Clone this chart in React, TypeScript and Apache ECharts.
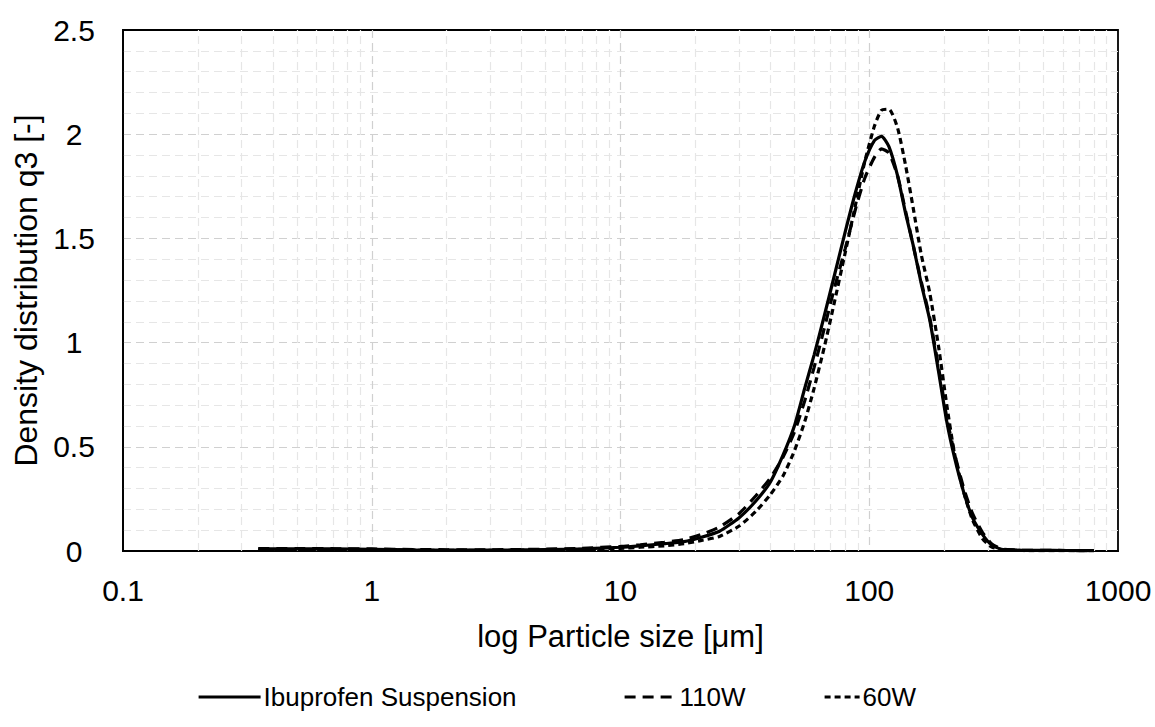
import React, { useEffect, useRef } from "react";
import * as echarts from "echarts";

const sizes = [0.35, 0.5, 0.7, 1, 1.5, 2, 3, 4, 5, 7, 10, 12, 15, 18, 21, 25, 30, 35, 40, 45, 50, 55, 60, 66, 72, 80, 88, 96, 105, 112, 120, 130, 140, 150, 162, 175, 190, 205, 220, 240, 260, 285, 310, 340, 380, 450, 550, 700, 800];

const suspension = [0.01, 0.01, 0.01, 0.008, 0.005, 0.004, 0.004, 0.005, 0.007, 0.01, 0.018, 0.025, 0.035, 0.045, 0.065, 0.095, 0.16, 0.24, 0.33, 0.46, 0.6, 0.78, 0.94, 1.13, 1.31, 1.53, 1.72, 1.87, 1.97, 1.99, 1.94, 1.8, 1.62, 1.47, 1.28, 1.11, 0.86, 0.62, 0.45, 0.28, 0.16, 0.08, 0.03, 0.008, 0.005, 0.003, 0.003, 0.002, 0.002];

const w110 = [0.012, 0.012, 0.011, 0.01, 0.007, 0.006, 0.006, 0.007, 0.009, 0.013, 0.022, 0.03, 0.042, 0.055, 0.078, 0.115, 0.18, 0.265, 0.35, 0.45, 0.57, 0.72, 0.88, 1.07, 1.25, 1.45, 1.64, 1.79, 1.89, 1.93, 1.91, 1.8, 1.63, 1.47, 1.29, 1.12, 0.88, 0.64, 0.47, 0.3, 0.18, 0.09, 0.035, 0.01, 0.005, 0.003, 0.003, 0.002, 0.002];

const w60 = [0.005, 0.005, 0.005, 0.005, 0.003, 0.003, 0.003, 0.004, 0.005, 0.008, 0.013, 0.018, 0.025, 0.035, 0.05, 0.07, 0.12, 0.19, 0.27, 0.36, 0.48, 0.62, 0.78, 0.98, 1.18, 1.43, 1.66, 1.87, 2.04, 2.115, 2.12, 2.03, 1.85, 1.65, 1.42, 1.24, 0.98, 0.7, 0.47, 0.28, 0.15, 0.06, 0.02, 0.006, 0.003, 0.002, 0.002, 0.002, 0.002];

const seriesNames = ["Ibuprofen Suspension", "110W", "60W"];
const decades = [0.1, 1, 10, 100];
const minorMultipliers = [2, 3, 4, 5, 6, 7, 8, 9];

const FONT = "'Liberation Sans', Arial, sans-serif";
const DASH_110: number[] = [11, 7];
const DASH_60: number[] = [6, 4];

export default function App() {
  const ref = useRef<HTMLDivElement>(null);
  useEffect(() => {
    if (!ref.current) return;
    const chart = echarts.init(ref.current, undefined, { renderer: "svg" });
    const minorX: number[] = [];
    decades.forEach((d) => minorMultipliers.forEach((m) => minorX.push(+(d * m).toPrecision(6))));
    const pairs = (ys: number[]) => sizes.map((x, i) => [x, ys[i]]);
    const lineSeries = (name: string, ys: number[], dash: any) => ({
      name,
      type: "line",
      data: pairs(ys),
      showSymbol: false,
      symbol: "none",
      smooth: 0.2,
      z: 3,
      itemStyle: { color: "#000" },
      lineStyle: { color: "#000", width: 3.2, type: dash },
    });
    const legendBase = {
      bottom: 12,
      itemHeight: 14,
      itemGap: 0,
      itemStyle: { opacity: 0 },
      textStyle: { fontFamily: FONT, fontSize: 26, color: "#000", padding: [0, 0, 0, -2] },
    };
    chart.setOption({
      animation: false,
      textStyle: { fontFamily: FONT, color: "#000" },
      grid: {
        left: 123,
        right: 37,
        top: 30,
        bottom: 176,
        show: true,
        borderColor: "#000",
        borderWidth: 1.8,
        backgroundColor: "transparent",
      },
      legend: [
        { ...legendBase, left: 192, itemWidth: 62, lineStyle: { width: 3.2, type: "solid", color: "#000" }, data: [seriesNames[0]] },
        { ...legendBase, left: 618, itemWidth: 52, lineStyle: { width: 3.2, type: DASH_110, color: "#000" }, data: [seriesNames[1]] },
        { ...legendBase, left: 818, itemWidth: 35, lineStyle: { width: 3.2, type: DASH_60, color: "#000" }, data: [seriesNames[2]] },
      ],
      xAxis: {
        type: "log",
        logBase: 10,
        min: 0.1,
        max: 1000,
        name: "log Particle size [μm]",
        nameLocation: "middle",
        nameGap: 70,
        nameTextStyle: { fontFamily: FONT, fontSize: 31, color: "#000" },
        axisLine: { show: true, lineStyle: { color: "#000", width: 1.8 } },
        axisTick: { show: false },
        axisLabel: {
          fontFamily: FONT,
          fontSize: 30,
          color: "#000",
          margin: 24,
          formatter: (v: number) => String(+v.toPrecision(6)),
        },
        splitLine: {
          show: true,
          showMinLine: false,
          showMaxLine: false,
          lineStyle: { color: "#d0d0d0", type: [8, 5], width: 1.2 },
        },
      },
      yAxis: {
        type: "value",
        min: 0,
        max: 2.5,
        interval: 0.5,
        name: "Density distribution q3 [-]",
        nameLocation: "middle",
        nameGap: 77,
        nameTextStyle: { fontFamily: FONT, fontSize: 32, color: "#000" },
        axisLine: { show: true, lineStyle: { color: "#000", width: 1.8 } },
        axisTick: { show: false },
        axisLabel: { fontFamily: FONT, fontSize: 30, color: "#000", margin: 49, align: "center" },
        splitLine: {
          show: true,
          showMinLine: false,
          showMaxLine: false,
          lineStyle: { color: "#d0d0d0", type: [8, 5], width: 1.2 },
        },
        minorTick: { show: false, splitNumber: 5 },
        minorSplitLine: { show: true, lineStyle: { color: "#e6e6e6", type: [8, 5], width: 1.2 } },
      },
      series: [
        {
          name: "minor-x",
          type: "line",
          data: [],
          z: 1,
          silent: true,
          markLine: {
            silent: true,
            symbol: ["none", "none"],
            label: { show: false },
            animation: false,
            z: 1,
            lineStyle: { color: "#e6e6e6", type: [8, 5], width: 1.2 },
            data: minorX.map((v) => ({ xAxis: v })),
          },
        },
        lineSeries(seriesNames[0], suspension, "solid"),
        lineSeries(seriesNames[1], w110, DASH_110),
        lineSeries(seriesNames[2], w60, DASH_60),
      ],
    });
    return () => chart.dispose();
  }, []);
  return <div ref={ref} style={{ width: 1155, height: 727, position: "absolute", left: 0, top: 0 }} />;
}
